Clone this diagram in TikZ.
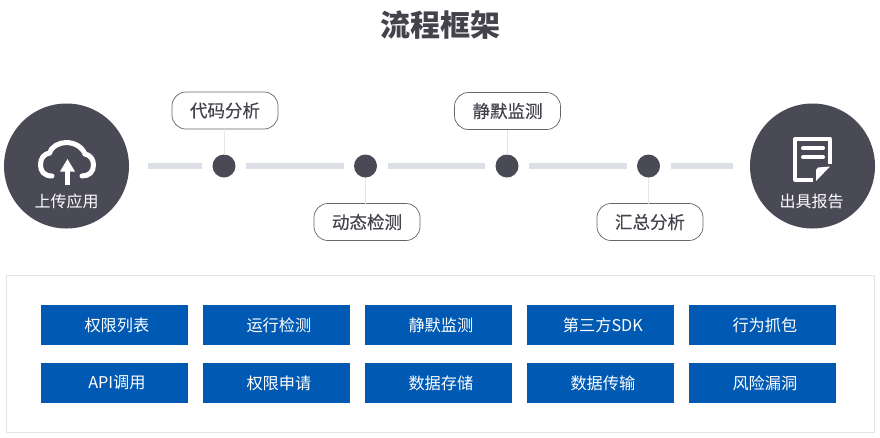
\documentclass[tikz,border=0pt]{standalone}
\usepackage{fontspec}
\setmainfont{Noto Sans CJK SC}
\newfontfamily\pillfont[FakeBold=0.25]{Noto Sans CJK SC}
\usetikzlibrary{positioning}
\definecolor{darkslate}{HTML}{494A56}
\definecolor{barcolor}{HTML}{DCDFE6}
\definecolor{stemcolor}{HTML}{E6E6E6}
\definecolor{framecolor}{HTML}{E4E4E4}
\definecolor{itemblue}{HTML}{0059B2}
\definecolor{textcolor}{HTML}{43444B}
\begin{document}
\begin{tikzpicture}[x=1pt,y=-1pt,
				every node/.style={inner sep=0pt,outer sep=0pt},
				endcircle/.style={circle,fill=darkslate,minimum size=125pt},
				endlabel/.style={text=white,font=\fontsize{16}{18}\selectfont},
				stepdot/.style={circle,fill=darkslate,minimum size=23pt},
				pill/.style={draw=darkslate!85,line width=0.7pt,rounded corners=14pt,fill=white,minimum width=106pt,minimum height=37pt,text=textcolor,font=\pillfont\fontsize{17.5}{20}\selectfont},
				item/.style={fill=itemblue,minimum width=147pt,minimum height=40pt,text=white,font=\fontsize{16.2}{18}\selectfont,execute at begin node=\hspace*{5pt}},
				bar/.style={barcolor,line width=6pt,shorten >=10.5pt,shorten <=10.5pt},
				stem/.style={stemcolor,line width=0.8pt},
				icon/.style={white,line width=5pt}]
\useasboundingbox (0,0) rectangle (880,437);
\fill[white] (0,0) rectangle (880,437);
\node[text=textcolor,font=\fontsize{30}{34}\selectfont\bfseries] (title) at (440,25) {流程框架};

\coordinate (barstart) at (137.5,166);
\coordinate (barend) at (743.5,166);
\node[endcircle] (upload) at (66.5,166) {};
\node[endcircle] (report) at (812.5,166) {};
\node[stepdot] (dota) at (224,166) {};
\node[stepdot] (dotb) at (365.5,166) {};
\node[stepdot] (dotc) at (507,166) {};
\node[stepdot] (dotd) at (648.5,166) {};
\node[pill] (code) at (225,110.5) {代码分析};
\node[pill] (dynamic) at (367,222) {动态检测};
\node[pill] (silent) at (507.5,111) {静默监测};
\node[pill] (summary) at (650,222) {汇总分析};
\node[endlabel] (uploadtext) at (66.5,201) {上传应用};
\node[endlabel] (reporttext) at (811.5,201) {出具报告};

\draw[bar] (barstart) -- (dota.west);
\draw[bar] (dota.east) -- (dotb.west);
\draw[bar] (dotb.east) -- (dotc.west);
\draw[bar] (dotc.east) -- (dotd.west);
\draw[bar] (dotd.east) -- (barend);
\draw[stem] (dota) -- (dota|-code.south);
\draw[stem] (dotb) -- (dotb|-dynamic.north);
\draw[stem] (dotc) -- (dotc|-silent.south);
\draw[stem] (dotd) -- (dotd|-summary.north);

\draw[icon,line cap=round] (52,176) .. controls (44,176) and (40.5,171) .. (40.5,165)
	.. controls (40.5,158) and (44,154) .. (49.5,153)
	.. controls (51,147) and (59,142.5) .. (66,142.5)
	.. controls (75,142.5) and (82,147) .. (85,154)
	.. controls (90,155) and (93.5,159) .. (93.5,165)
	.. controls (93.5,172) and (89,176) .. (82,176);
\draw[white,line width=5.5pt] (67.5,185) -- (67.5,170);
\fill[white] (60,171.5) -- (67.5,159) -- (75,171.5) -- cycle;

\draw[white,line width=4pt,line join=round] (813,179.5) -- (795.3,179.5) -- (795.3,139) -- (830.3,139) -- (830.3,164);
\draw[white,line width=4pt,line cap=round] (803,148.3) -- (823,148.3) (803,157.3) -- (823,157.3);
\fill[white] (816,181) -- (816,170) -- (818,167.5) -- (830,166.5) -- cycle;

\node[draw=framecolor,line width=1pt,minimum width=868pt,minimum height=157pt] (frame) at (440,353.5) {};
\node[item] (perm) at (114.4,325) {权限列表};
\node[item,right=15pt of perm] (run) {运行检测};
\node[item,right=15pt of run] (silentitem) {静默监测};
\node[item,right=15pt of silentitem] (sdk) {第三方SDK};
\node[item,right=15pt of sdk] (behavior) {行为抓包};
\node[item,below=18pt of perm] (api) {API调用};
\node[item,right=15pt of api] (permapply) {权限申请};
\node[item,right=15pt of permapply] (store) {数据存储};
\node[item,right=15pt of store] (transfer) {数据传输};
\node[item,right=15pt of transfer] (risk) {风险漏洞};
\end{tikzpicture}
\end{document}
